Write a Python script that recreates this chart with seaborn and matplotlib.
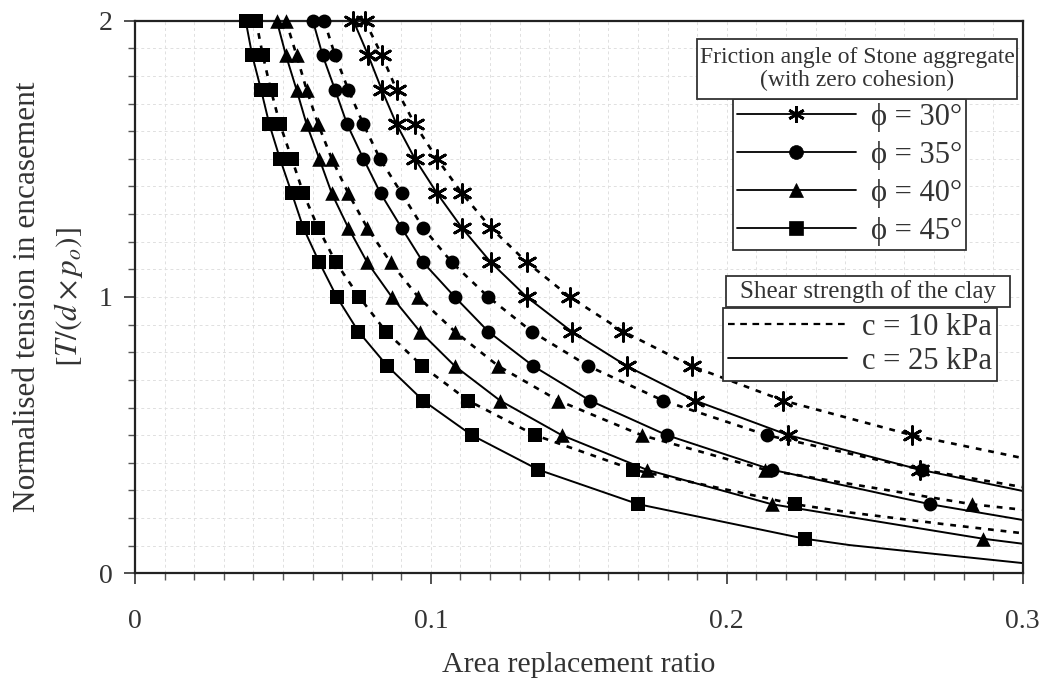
import matplotlib
matplotlib.use("Agg")
from matplotlib import pyplot as plt
from matplotlib import patches
from matplotlib.lines import Line2D
from matplotlib.ticker import MultipleLocator
import pandas as pd
import seaborn as sns

# marker rows (normalised tension T/(d x po))
T_levels = [2.0, 1.875, 1.75, 1.625, 1.5, 1.375, 1.25, 1.125, 1.0,
            0.875, 0.75, 0.625, 0.5, 0.375, 0.25, 0.125]

# area replacement ratio at each marker row
ar_30_c25 = [0.0738, 0.0788, 0.0834, 0.0884, 0.0946, 0.1021, 0.1105, 0.1203,
             0.1324, 0.1476, 0.1662, 0.1893, 0.2208, 0.2653]
ar_30_c10 = [0.0777, 0.0834, 0.0884, 0.0946, 0.1021, 0.1105, 0.1203, 0.1325,
             0.1470, 0.1650, 0.1881, 0.2191, 0.2626]
ar_35_c25 = [0.0601, 0.0634, 0.0676, 0.0717, 0.0772, 0.0830, 0.0901, 0.0974,
             0.1081, 0.1194, 0.1346, 0.1538, 0.1797, 0.2152, 0.2687]
ar_35_c10 = [0.0639, 0.0676, 0.0721, 0.0772, 0.0828, 0.0901, 0.0974, 0.1071,
             0.1194, 0.1341, 0.1532, 0.1785, 0.2135, 0.2659]
ar_40_c25 = [0.0479, 0.0510, 0.0546, 0.0580, 0.0623, 0.0665, 0.0721, 0.0785,
             0.0868, 0.0963, 0.1081, 0.1234, 0.1442, 0.1729, 0.2152, 0.2867]
ar_40_c10 = [0.0510, 0.0546, 0.0580, 0.0619, 0.0665, 0.0721, 0.0785, 0.0864,
             0.0957, 0.1081, 0.1228, 0.1431, 0.1712, 0.2129, 0.2828]
ar_45_c25 = [0.0374, 0.0396, 0.0426, 0.0454, 0.0490, 0.0530, 0.0569, 0.0623,
             0.0682, 0.0755, 0.0853, 0.0974, 0.1138, 0.1363, 0.1701, 0.2264]
ar_45_c10 = [0.0409, 0.0432, 0.0459, 0.0490, 0.0530, 0.0569, 0.0619, 0.0679,
             0.0758, 0.0848, 0.0971, 0.1126, 0.1352, 0.1684, 0.2230]

# curve continuation past the last marker (ratio, T)
tail_30_c25 = ([0.300], [0.298])
tail_30_c10 = ([0.300], [0.417])
tail_35_c25 = ([0.300], [0.193])
tail_35_c10 = ([0.300], [0.312])
tail_40_c25 = ([0.300], [0.107])
tail_40_c10 = ([0.300], [0.230])
tail_45_c25 = ([0.2416, 0.274, 0.300], [0.102, 0.066, 0.037])
tail_45_c10 = ([0.2416, 0.274, 0.300], [0.220, 0.177, 0.145])

phis = [30, 35, 40, 45]
phi_markers = {30: (6, 2, 0), 35: 'o', 40: '^', 45: 's'}
phi_sizes = {30: 165, 35: 100, 40: 110, 45: 110}
dash = (0, (2.2, 2.6))

series = [
    (30, 10, ar_30_c10, tail_30_c10), (30, 25, ar_30_c25, tail_30_c25),
    (35, 10, ar_35_c10, tail_35_c10), (35, 25, ar_35_c25, tail_35_c25),
    (40, 10, ar_40_c10, tail_40_c10), (40, 25, ar_40_c25, tail_40_c25),
    (45, 10, ar_45_c10, tail_45_c10), (45, 25, ar_45_c25, tail_45_c25),
]

sns.set_style('ticks')
plt.rcParams['font.family'] = ['Liberation Serif', 'DejaVu Serif']
plt.rcParams['mathtext.fontset'] = 'stix'

fig = plt.figure(figsize=(10.46, 6.82), dpi=100)
ax = fig.add_axes([135 / 1046, 1 - 573.3 / 682, 887.7 / 1046, 552.6 / 682])

for phi, c, xs, tail in series:
    n = len(xs)
    line = pd.DataFrame({'ratio': xs + tail[0], 'T': T_levels[:n] + tail[1]})
    pts = line.iloc[:n]
    ls = dash if c == 10 else '-'
    lw = 1.9 if c == 10 else 1.4
    sns.lineplot(data=line, x='ratio', y='T', ax=ax, color='k', lw=lw,
                 linestyle=ls, estimator=None, sort=False, zorder=2)
    if phi == 30:
        sns.scatterplot(data=pts, x='ratio', y='T', ax=ax, marker=phi_markers[phi],
                        s=phi_sizes[phi], color='k', linewidth=2.0,
                        clip_on=False, zorder=3, legend=False)
    else:
        sns.scatterplot(data=pts, x='ratio', y='T', ax=ax, marker=phi_markers[phi],
                        s=phi_sizes[phi], color='k', edgecolor='k', linewidth=0,
                        clip_on=False, zorder=3, legend=False)

ax.set_xlim(0, 0.3)
ax.set_ylim(0, 2)
ax.xaxis.set_major_locator(MultipleLocator(0.1))
ax.xaxis.set_minor_locator(MultipleLocator(0.01))
ax.yaxis.set_major_locator(MultipleLocator(1))
ax.yaxis.set_minor_locator(MultipleLocator(0.1))
ax.set_xticks([0, 0.1, 0.2, 0.3])
ax.set_xticklabels(['0', '0.1', '0.2', '0.3'])
ax.set_yticks([0, 1, 2])
ax.set_yticklabels(['0', '1', '2'])
ax.tick_params(which='major', direction='out', length=8, width=1.2,
               labelsize=20, color='#333333', labelcolor='#333333')
ax.tick_params(which='minor', direction='out', length=5, width=1.0, color='#555555')
ax.tick_params(axis='x', which='major', pad=18)
ax.tick_params(axis='y', which='major', pad=8)
ax.grid(which='both', color='#e0e0e0', linestyle=(0, (3, 3)), linewidth=0.7)
ax.set_axisbelow(True)
for s in ax.spines.values():
    s.set_linewidth(1.6)
    s.set_color('#222222')
    s.set_visible(True)

ax.set_xlabel('Area replacement ratio', fontsize=21.5, color='#333333')
ax.xaxis.set_label_coords(0.5, -0.142)
ax.set_ylabel('Normalised tension in encasement\n$[T/(d\\times p_o)]$',
              fontsize=22.5, color='#333333', linespacing=1.4)
ax.yaxis.set_label_coords(-0.056, 0.5)

# legend 1: friction angle
fig.add_artist(patches.Rectangle((697 / 1046, 1 - 99 / 682), 320 / 1046, 60 / 682,
                                 transform=fig.transFigure, facecolor='white',
                                 edgecolor='#333333', lw=1.3, zorder=5))
fig.text(857 / 1046, 1 - 69 / 682,
         'Friction angle of Stone aggregate\n(with zero cohesion)',
         ha='center', va='center', fontsize=17, color='#333333',
         linespacing=1.1, zorder=6)
h1 = [Line2D([0], [0], color='k', lw=1.3, marker=phi_markers[p],
             markersize=10 if p != 30 else 12, markeredgewidth=2.0 if p == 30 else 0.5,
             markerfacecolor='k', markeredgecolor='k') for p in phis]
leg1 = ax.legend(h1, ['\u03d5 = %d\u00b0' % p for p in phis], loc='upper left',
                 bbox_to_anchor=(733 / 1046, 1 - 99 / 682), bbox_transform=fig.transFigure,
                 fontsize=22, handlelength=3.9, handletextpad=0.5, labelspacing=0.3,
                 borderpad=0.12, borderaxespad=0, fancybox=False, framealpha=1,
                 edgecolor='#333333', labelcolor='#333333')
leg1.get_frame().set_linewidth(1.3)
leg1.set_zorder(5)
ax.add_artist(leg1)

# legend 2: clay shear strength
fig.add_artist(patches.Rectangle((726 / 1046, 1 - 307 / 682), 284 / 1046, 31 / 682,
                                 transform=fig.transFigure, facecolor='white',
                                 edgecolor='#333333', lw=1.3, zorder=5))
fig.text(868 / 1046, 1 - 291.5 / 682, 'Shear strength of the clay',
         ha='center', va='center', fontsize=18, color='#333333', zorder=6)
h2 = [Line2D([0], [0], color='k', lw=1.6, linestyle=(0, (3, 2.5))),
      Line2D([0], [0], color='k', lw=1.3)]
leg2 = ax.legend(h2, ['c = 10 kPa', 'c = 25 kPa'], loc='upper left',
                 bbox_to_anchor=(723 / 1046, 1 - 308 / 682), bbox_transform=fig.transFigure,
                 fontsize=22, handlelength=3.9, handletextpad=0.5, labelspacing=0.18,
                 borderpad=0.15, borderaxespad=0, fancybox=False, framealpha=1,
                 edgecolor='#333333', labelcolor='#333333')
leg2.get_frame().set_linewidth(1.3)
leg2.set_zorder(5)

fig.savefig('out.png', dpi=100)
